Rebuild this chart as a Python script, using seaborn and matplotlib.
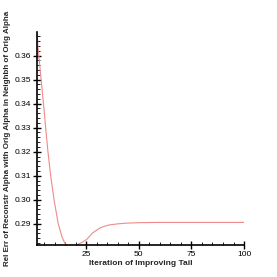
import numpy as np
import pandas as pd
import seaborn as sns
import matplotlib.pyplot as plt
from matplotlib.ticker import MultipleLocator, FormatStrFormatter

# 读取的曲线数据 (从图中估计)
iterations = [1.7, 2, 3, 4, 5, 5.7, 6.8, 8.1, 9.7, 11.7, 13.5, 14.9, 16.5, 18.2, 20, 21,
              23, 25.2, 28, 31.5, 34, 36.3, 40, 44.2, 50.5, 60, 70, 80, 90, 100]
rel_err = [0.369, 0.364, 0.355, 0.346, 0.337, 0.33, 0.32, 0.31, 0.30, 0.29, 0.2845, 0.2818,
           0.2808, 0.2805, 0.2808, 0.2815, 0.2823, 0.2835, 0.2862, 0.2883, 0.2891, 0.2896,
           0.2900, 0.2903, 0.2905, 0.2906, 0.2906, 0.2906, 0.2906, 0.2906]

df = pd.DataFrame({'iter': iterations, 'err': rel_err})

sns.set_style('ticks')
plt.rcParams['font.family'] = ['Liberation Sans', 'DejaVu Sans']

fig = plt.figure(figsize=(2.77, 2.77), dpi=100)
ax = fig.add_axes([0.1336, 0.1155, 0.7474, 0.769])
sns.lineplot(data=df, x='iter', y='err', ax=ax, color='#f08a8a', linewidth=0.8)

ax.set_xlim(1.6, 100)
ax.set_ylim(0.2812, 0.3698)
ax.xaxis.set_major_locator(MultipleLocator(25))
ax.xaxis.set_minor_locator(MultipleLocator(5))
ax.yaxis.set_major_locator(MultipleLocator(0.01))
ax.yaxis.set_minor_locator(MultipleLocator(0.002))
ax.yaxis.set_major_formatter(FormatStrFormatter('%.2f'))

for s in ['top', 'right']:
    ax.spines[s].set_visible(False)
for s in ['left', 'bottom']:
    ax.spines[s].set_linewidth(1.2)
    ax.spines[s].set_color('black')

ax.tick_params(which='major', direction='inout', length=6, width=1, labelsize=6, pad=1, colors='black')
ax.tick_params(which='minor', direction='in', length=2.2, width=0.6, colors='black')

ax.set_xlabel('Iteration of Improving Tail', fontsize=6, fontweight='bold', labelpad=2)
ax.set_ylabel('Rel Err of Reconstr Alpha with Orig Alpha in Neighbh of Orig Alpha',
              fontsize=5.8, fontweight='bold', labelpad=3)

plt.savefig('out.png', dpi=100)
